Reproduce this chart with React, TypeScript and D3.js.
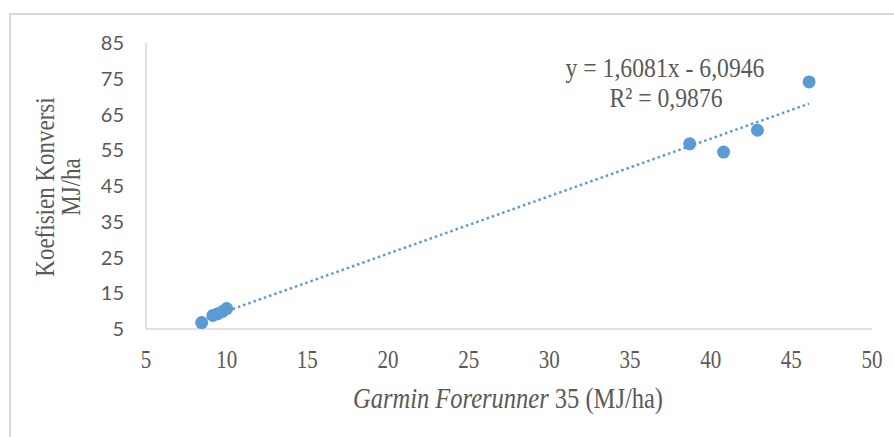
import React from "react";
import * as d3 from "d3";

const xValues = [8.45, 9.15, 9.45, 9.75, 10.0, 38.7, 40.8, 42.9, 46.1];
const yValues = [6.8, 8.8, 9.3, 9.9, 10.7, 56.8, 54.5, 60.6, 74.1];
const xTicks = [5, 10, 15, 20, 25, 30, 35, 40, 45, 50];
const yTicks = [5, 15, 25, 35, 45, 55, 65, 75, 85];
const slope = 1.6081;
const intercept = -6.0946;
const equationText = "y = 1,6081x - 6,0946";
const r2Text = "R² = 0,9876";

const W = 894;
const H = 437;
const blue = "#5B9BD5";
const axisGray = "#D9D9D9";
const textGray = "#595959";
const serif = "'Liberation Serif', 'Times New Roman', serif";
const STRETCH = 1.17;

function SText(props: {
  x: number;
  y: number;
  size: number;
  rotate?: number;
  anchor?: string;
  children: React.ReactNode;
}) {
  const { x, y, size, rotate = 0, anchor = "middle", children } = props;
  return (
    <g transform={`translate(${x},${y}) rotate(${rotate}) scale(1,${STRETCH})`}>
      <text
        x={0}
        y={0}
        dy="0.35em"
        textAnchor={anchor}
        fontFamily={serif}
        fontSize={size}
        fill={textGray}
      >
        {children}
      </text>
    </g>
  );
}

export default function App() {
  const x = d3.scaleLinear().domain([5, 50]).range([146, 872]);
  const y = d3.scaleLinear().domain([5, 85]).range([329, 43]);
  const xMin = d3.min(xValues) as number;
  const xMax = d3.max(xValues) as number;
  const line = d3
    .line<number>()
    .x((d) => x(d))
    .y((d) => y(slope * d + intercept));
  const pts = xValues.map((v, i) => ({ x: v, y: yValues[i] }));

  return (
    <svg
      width={W}
      height={H}
      style={{ position: "absolute", left: 0, top: 0, background: "#fff" }}
    >
      <rect x={0} y={0} width={W} height={H} fill="#fff" />
      <rect x={10} y={14} width={W + 20} height={H + 20} fill="none" stroke={axisGray} strokeWidth={2} />
      {/* axes */}
      <line x1={x(5)} x2={x(50)} y1={y(5)} y2={y(5)} stroke={axisGray} strokeWidth={1.5} />
      <line x1={x(5)} x2={x(5)} y1={y(5)} y2={y(85)} stroke={axisGray} strokeWidth={1.5} />
      {/* y tick labels */}
      {yTicks.map((t) => (
        <text
          key={"y" + t}
          x={124}
          y={y(t)}
          dy="0.35em"
          textAnchor="end"
          fontFamily="Lato, 'Open Sans', sans-serif"
          fontSize={20}
          fill={textGray}
        >
          {t}
        </text>
      ))}
      {/* x tick labels */}
      {xTicks.map((t) => (
        <SText key={"x" + t} x={x(t)} y={359} size={21}>
          {t}
        </SText>
      ))}
      {/* trendline */}
      <path
        d={line([xMin, xMax]) || ""}
        fill="none"
        stroke={blue}
        strokeWidth={2.5}
        strokeDasharray="2.5 3"
      />
      {/* points */}
      {pts.map((p, i) => (
        <circle key={i} cx={x(p.x)} cy={y(p.y)} r={6.5} fill={blue} />
      ))}
      {/* equation */}
      <SText x={665} y={67} size={23.7}>
        {equationText}
      </SText>
      <SText x={666} y={97} size={23.7}>
        {r2Text}
      </SText>
      {/* y axis title */}
      <SText x={45} y={187} size={23} rotate={-90}>
        Koefisien Konversi
      </SText>
      <SText x={71} y={187} size={23} rotate={-90}>
        MJ/ha
      </SText>
      {/* x axis title */}
      <SText x={508} y={398} size={24.5}>
        <tspan fontStyle="italic">Garmin Forerunner</tspan> 35 (MJ/ha)
      </SText>
    </svg>
  );
}
